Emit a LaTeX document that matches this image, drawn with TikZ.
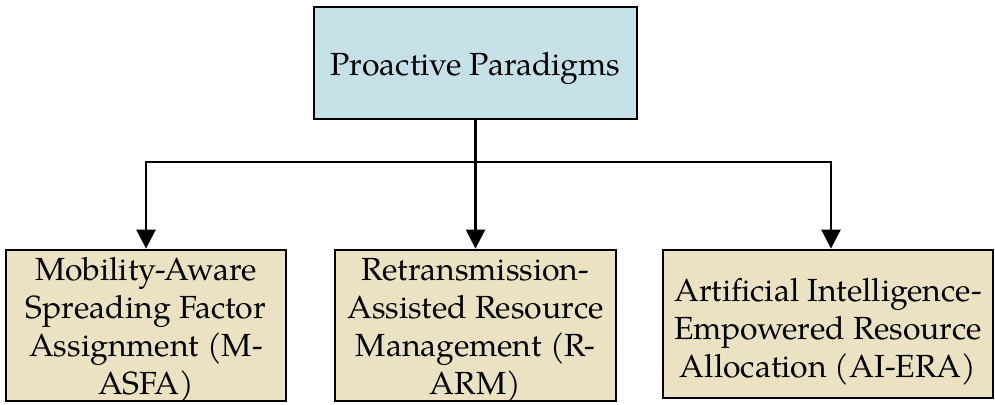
\documentclass[tikz,border=0pt]{standalone}
\usepackage{fontspec}
\setmainfont{TeX Gyre Pagella}
\usetikzlibrary{arrows.meta}
\definecolor{topfill}{RGB}{198,224,232}
\definecolor{botfill}{RGB}{235,225,195}
\tikzset{
  box/.style={draw=black, line width=2.8pt, inner sep=0pt},
  topbox/.style={box, fill=topfill},
  leafbox/.style={box, fill=botfill},
  txt/.style={inner sep=0pt, align=center, font=\fontsize{32}{38}\selectfont},
  conn/.style={line width=2.6pt},
  arr/.style={conn, -{Triangle[width=19pt,length=19pt]}}
}
\begin{document}
\begin{tikzpicture}[x=1pt,y=-1pt]
\useasboundingbox (0,0) rectangle (995,404);
\node[topbox, minimum width=323pt, minimum height=112pt] (top) at (475.5,63) {};
\node[txt, yshift=-5pt] (topT) at (top.center) {Proactive Paradigms};
\node[leafbox, minimum width=280pt, minimum height=151pt] (left) at (146,325.5) {};
\node[txt, yshift=-4.5pt] (leftT) at (left.center)
  {Mobility-Aware\\Spreading Factor\\Assignment (M-\\ASFA)};
\node[leafbox, minimum width=281pt, minimum height=151pt] (mid) at (475.5,325.5) {};
\node[txt, yshift=-4.5pt] (midT) at (mid.center)
  {Retransmission-\\Assisted Resource\\Management (R-\\ARM)};
\node[leafbox, minimum width=330pt, minimum height=148pt] (right) at (828,324) {};
\node[txt, yshift=-8pt] (rightT) at (right.center)
  {Artificial Intelligence-\\Empowered Resource\\Allocation (AI-ERA)};
\coordinate (j) at (475.5,162);
\draw[conn] (top.south) -- (j);
\draw[arr] (j) -| (left.north);
\draw[arr] (j) -- (mid.north);
\draw[arr] (j) -| ([xshift=3pt]right.north);
\end{tikzpicture}
\end{document}
